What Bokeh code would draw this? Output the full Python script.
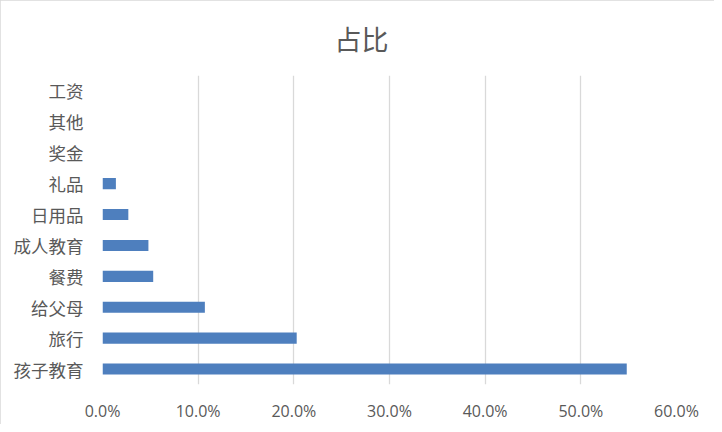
from bokeh.plotting import figure
from bokeh.models import FactorRange, Range1d, FixedTicker, NumeralTickFormatter, ColumnDataSource
from bokeh.embed import file_html
from bokeh.resources import INLINE

title_text = "占比"
categories = ["孩子教育", "旅行", "给父母", "餐费", "成人教育", "日用品", "礼品", "奖金", "其他", "工资"]
shares = [0.548, 0.203, 0.107, 0.053, 0.048, 0.027, 0.014, 0.0, 0.0, 0.0]
x_ticks = [0.0, 0.1, 0.2, 0.3, 0.4, 0.5, 0.6]

src = ColumnDataSource(dict(cat=categories, val=shares))

p = figure(width=714, height=424, output_backend="svg", toolbar_location=None,
           y_range=FactorRange(factors=categories), x_range=Range1d(0, 0.6),
           title=title_text, min_border_left=102, min_border_right=38,
           min_border_top=75, min_border_bottom=40)
p.styles = {"outline": "1px solid #d9d9d9", "outline-offset": "-1px"}

p.hbar(y="cat", right="val", height=0.36, left=0, source=src,
       fill_color="#4e7fbe", line_color=None)

p.title.align = "left"
p.title.vertical_align = "top"
p.title.text_font = "Noto Sans CJK SC"
p.title.text_font_size = "27px"
p.title.text_font_style = "normal"
p.title.text_color = "#595959"
p.title.offset = 232
p.title.standoff = 32

p.outline_line_color = None
p.ygrid.grid_line_color = None
p.xgrid.grid_line_color = "#d9d9d9"
p.xgrid.grid_line_width = 1.3

p.xaxis.ticker = FixedTicker(ticks=x_ticks)
p.xaxis.formatter = NumeralTickFormatter(format="0.0%")
p.xaxis.axis_line_color = None
p.xaxis.major_tick_line_color = None
p.xaxis.minor_tick_line_color = None
p.xaxis.major_label_text_font = "Open Sans"
p.xaxis.major_label_text_font_size = "16px"
p.xaxis.major_label_text_color = "#595959"
p.xaxis.major_label_standoff = 9

p.yaxis.axis_line_color = None
p.yaxis.major_tick_line_color = None
p.yaxis.minor_tick_line_color = None
p.yaxis.major_label_text_font = "Noto Sans CJK SC"
p.yaxis.major_label_text_font_size = "17.5px"
p.yaxis.major_label_text_color = "#595959"
p.yaxis.major_label_standoff = 13

open("out.html", "w").write(file_html(p, INLINE))
